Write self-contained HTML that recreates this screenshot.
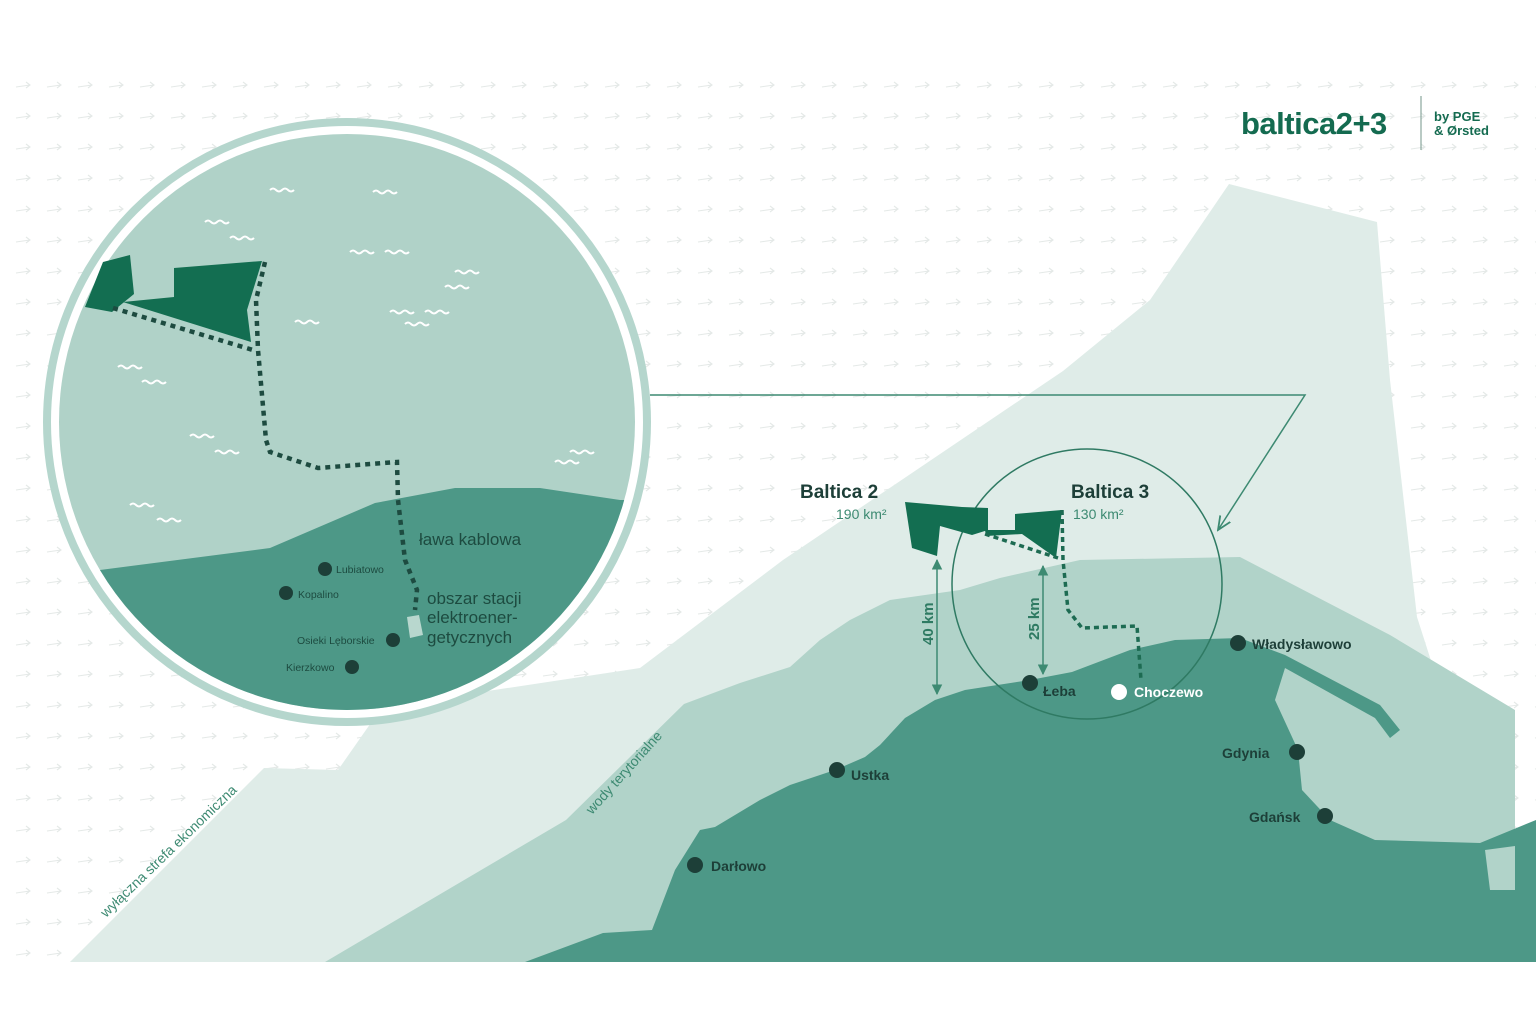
<!DOCTYPE html>
<html><head><meta charset="utf-8"><style>
html,body{margin:0;padding:0;background:#fff;}
svg{display:block;}
text{font-family:"Liberation Sans",sans-serif;}
</style></head><body>
<svg width="1536" height="1024" viewBox="0 0 1536 1024" xmlns="http://www.w3.org/2000/svg">
<defs>
<pattern id="p" x="10" y="72" width="31" height="31" patternUnits="userSpaceOnUse">
<path d="M6 15 L20 13 M16 10 L20 13 L16 16" stroke="#e4e9e7" stroke-width="1.1" fill="none"/>
</pattern>
<clipPath id="bc"><circle cx="347" cy="422" r="288"/></clipPath>
<marker id="ar" viewBox="0 0 10 10" refX="9" refY="5" markerWidth="7" markerHeight="7" orient="auto-start-reverse"><path d="M0 0 L10 5 L0 10 z" fill="#3d8a72"/></marker>
<marker id="ar2" viewBox="0 0 10 10" refX="9" refY="5" markerWidth="10" markerHeight="10" orient="auto"><path d="M0 1 L9 5 L0 9" fill="none" stroke="#3d8a72" stroke-width="1.2"/></marker>
<path id="w" d="M0 0 q3 -3 6 0 t6 0 t6 0 t6 0"/>
</defs>
<rect x="0" y="65" width="1536" height="897" fill="url(#p)"/>
<polygon fill="#dfece8" points="70,962 264,768 338,770 382,707 640,668 783,560 1063,371 1150,300 1229,184 1377,222 1390,380 1417,617 1450,720 1505,840 1515,860 1515,962"/>
<polygon fill="#b1d3c9" points="325,962 566,820 684,704 740,683 790,667 820,640 850,620 890,600 960,590 1000,578 1080,560 1240,557 1390,635 1515,710 1515,962"/>
<polygon fill="#4d9887" points="525,962 603,933 652,930 675,870 700,830 715,827 760,800 790,785 835,770 865,757 880,745 905,718 935,700 965,690 1030,680 1072,672 1130,650 1175,640 1240,638 1285,655 1380,705 1400,730 1390,738 1375,718 1285,668 1275,700 1298,750 1302,790 1330,820 1375,840 1480,843 1536,820 1536,962"/>
<polygon fill="#b1d3c9" points="1485,850 1515,846 1515,890 1490,890"/>
<polyline points="650,395 1305,395 1218,530" fill="none" stroke="#3d8a72" stroke-width="1.5" marker-end="url(#ar2)"/>
<circle cx="1087" cy="584" r="135" fill="none" stroke="#2f7a63" stroke-width="1.5"/>
<circle cx="347" cy="422" r="300" fill="#fff" stroke="#b5d6cd" stroke-width="8"/>
<g clip-path="url(#bc)">
<rect x="0" y="100" width="700" height="700" fill="#b0d2c8"/>
<polygon fill="#4d9887" points="50,570 100,570 270,548 375,503 455,488 540,488 620,500 700,500 700,800 50,800"/>
<g stroke="#fff" stroke-width="2" fill="none">
<use href="#w" x="270" y="190"/><use href="#w" x="373" y="192"/>
<use href="#w" x="205" y="222"/><use href="#w" x="230" y="238"/>
<use href="#w" x="350" y="252"/><use href="#w" x="385" y="252"/>
<use href="#w" x="455" y="272"/><use href="#w" x="445" y="287"/>
<use href="#w" x="295" y="322"/><use href="#w" x="390" y="312"/><use href="#w" x="425" y="312"/><use href="#w" x="405" y="324"/>
<use href="#w" x="118" y="367"/><use href="#w" x="142" y="382"/>
<use href="#w" x="190" y="436"/><use href="#w" x="215" y="452"/>
<use href="#w" x="130" y="505"/><use href="#w" x="157" y="520"/>
<use href="#w" x="555" y="462"/><use href="#w" x="570" y="452"/>
</g>
</g>
<polygon fill="#136e51" points="85,307 103,262 130,255 134,294 112,312"/>
<polygon fill="#136e51" points="123,302 174,297 174,268 262,261 247,310 251,342"/>
<g fill="none" stroke="#1d4b40" stroke-width="4.5" stroke-dasharray="5 5">
<polyline points="113,308 253,350"/>
<polyline points="265,262 256,300 258,350 266,440 270,452 318,468 397,462 398,500 405,560 417,590 415,610"/>
</g>
<polygon fill="#b8d7ce" points="407,617 419,615 423,635 410,638"/>
<text x="419" y="545" font-size="17" fill="#1d4b40">ława kablowa</text>
<text x="427" y="604" font-size="17" fill="#1d4b40">obszar stacji</text>
<text x="427" y="623" font-size="17" fill="#1d4b40">elektroener-</text>
<text x="427" y="643" font-size="17" fill="#1d4b40">getycznych</text>
<g fill="#1d3f38"><circle cx="325" cy="569" r="7"/><circle cx="286" cy="593" r="7"/><circle cx="393" cy="640" r="7"/><circle cx="352" cy="667" r="7"/></g>
<g font-size="10.5" fill="#1d4b40"><text x="336" y="573">Lubiatowo</text><text x="298" y="598">Kopalino</text><text x="297" y="644">Osieki Lęborskie</text><text x="286" y="671">Kierzkowo</text></g>
<polygon fill="#136e51" points="905,502 962,507 988,508 988,530 972,535 940,526 937,556 912,548"/>
<polygon fill="#136e51" points="1015,514 1062,510 1056,558 1022,534 986,536 985,530 1015,530"/>
<g fill="none" stroke="#1d6b52" stroke-width="3.5" stroke-dasharray="5 4">
<polyline points="985,534 1058,558"/>
<polyline points="1062,510 1063,560 1068,610 1082,628 1137,626 1141,680"/>
</g>
<line x1="937" y1="560" x2="937" y2="694" stroke="#3d8a72" stroke-width="1.5" marker-start="url(#ar)" marker-end="url(#ar)"/>
<line x1="1043" y1="566" x2="1043" y2="674" stroke="#3d8a72" stroke-width="1.5" marker-start="url(#ar)" marker-end="url(#ar)"/>
<text transform="translate(933,645) rotate(-90)" font-size="15" font-weight="bold" fill="#2e7a62">40 km</text>
<text transform="translate(1039,640) rotate(-90)" font-size="15" font-weight="bold" fill="#2e7a62">25 km</text>
<text x="800" y="498" font-size="19" font-weight="bold" fill="#1d3f38">Baltica 2</text>
<text x="836" y="519" font-size="14" fill="#3d8a72">190 km²</text>
<text x="1071" y="498" font-size="19" font-weight="bold" fill="#1d3f38">Baltica 3</text>
<text x="1073" y="519" font-size="14" fill="#3d8a72">130 km²</text>
<g fill="#1d3f38"><circle cx="1030" cy="683" r="8"/><circle cx="1238" cy="643" r="8"/><circle cx="1297" cy="752" r="8"/><circle cx="1325" cy="816" r="8"/><circle cx="837" cy="770" r="8"/><circle cx="695" cy="865" r="8"/></g>
<circle cx="1119" cy="692" r="8" fill="#fff"/>
<g font-size="14" font-weight="bold" fill="#1d3f38">
<text x="1043" y="696">Łeba</text><text x="1252" y="649">Władysławowo</text><text x="1222" y="758">Gdynia</text><text x="1249" y="822">Gdańsk</text><text x="851" y="780">Ustka</text><text x="711" y="871">Darłowo</text>
</g>
<text x="1134" y="697" font-size="14" font-weight="bold" fill="#fff">Choczewo</text>
<text transform="translate(106,918) rotate(-44)" font-size="14" fill="#3d8a72">wyłączna strefa ekonomiczna</text>
<text transform="translate(592,815) rotate(-48)" font-size="14" fill="#3d8a72">wody terytorialne</text>
<text x="1241" y="134" font-size="31" font-weight="bold" fill="#146b50" letter-spacing="-0.5">baltica2+3</text>
<line x1="1421" y1="96" x2="1421" y2="150" stroke="#8aa69c" stroke-width="1.2"/>
<text x="1434" y="121" font-size="13" font-weight="bold" fill="#146b50">by PGE</text>
<text x="1434" y="135" font-size="13" font-weight="bold" fill="#146b50">&amp; Ørsted</text>
</svg>
</body></html>
